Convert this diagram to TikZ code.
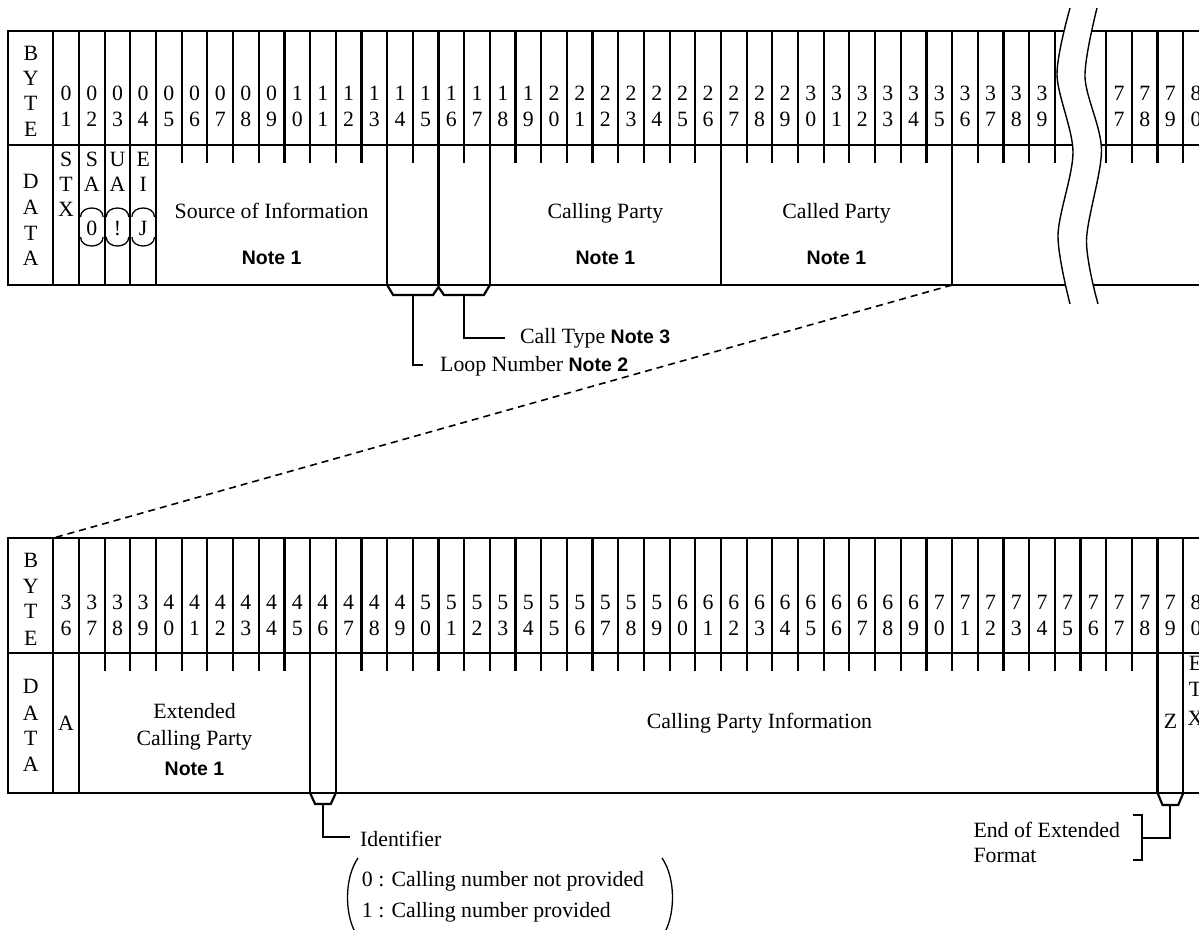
\documentclass[tikz,border=0pt]{standalone}
\usepackage{fontspec}
\usetikzlibrary{calc}
\setmainfont{Liberation Serif}
\newfontfamily\notefont{Liberation Sans}
\newcommand\notetxt[1]{{\notefont\bfseries\fontsize{19.5}{22}\selectfont #1}}
\tikzset{
  tbl/.style={line width=2.2pt},
  lead/.style={line width=2.2pt},
  brk/.style={line width=1.4pt},
  txt/.style={font=\fontsize{21.8}{25}\selectfont, inner sep=0pt, anchor=base},
  ltxt/.style={txt, anchor=base west},
  note/.style={font=\notefont\bfseries\fontsize{19.5}{22}\selectfont, inner sep=0pt, anchor=base},
  enc/.style={line width=1.3pt},
  dsh/.style={line width=1.6pt, dash pattern=on 7pt off 5pt},
}
\begin{document}
\begin{tikzpicture}[x=1pt,y=-1pt]
\useasboundingbox (0,0) rectangle (1199,929);
\def\W{25.68}
% ================= TOP TABLE =================
\draw[tbl] (8.3,31) -- (1215,31);
\draw[tbl] (8.3,145) -- (1215,145);
\draw[tbl] (8.3,285) -- (1215,285);
\draw[tbl] (8.3,29.9) -- (8.3,286.1);
% byte row verticals
\foreach \k in {1,...,40} \draw[tbl] ({53.3+(\k-1)*\W},31) -- ++(0,114);
\foreach \k in {77,...,80} \draw[tbl] ({53.3+(\k-36)*\W},31) -- ++(0,114);
% data row full lines
\foreach \k in {1,2,3,4,5,14,16,18,27,36} \draw[tbl] ({53.3+(\k-1)*\W},145) -- ++(0,140);
% data row ticks
\foreach \k in {6,...,13,15,17,19,20,...,26,28,29,...,35,37,38,39,40} \draw[tbl] ({53.3+(\k-1)*\W},145) -- ++(0,18);
\foreach \k in {77,...,80} \draw[tbl] ({53.3+(\k-36)*\W},145) -- ++(0,18);
% break
\fill[white] plot[smooth] coordinates {(1070,8) (1057,75) (1073,152) (1058,235) (1070,304)}
  -- plot[smooth] coordinates {(1098,304) (1086.5,240) (1101.5,150) (1085,77) (1097,8)} -- cycle;
\draw[brk] plot[smooth] coordinates {(1070,8) (1057,75) (1073,152) (1058,235) (1070,304)};
\draw[brk] plot[smooth] coordinates {(1097,8) (1085,77) (1101.5,150) (1086.5,240) (1098,304)};
% labels
\foreach \l/\y [count=\i] in {B/60,Y/85.5,T/110.5,E/136} \node[txt] (tb\i) at (30.8,\y) {\l};
\foreach \l/\y [count=\i] in {D/188.3,A/214.5,T/240,A/265} \node[txt] (td\i) at (30.8,\y) {\l};
\foreach \k in {1,...,39,77,78,79,80} {
  \pgfmathtruncatemacro\tb{mod(\k,10)}
  \pgfmathtruncatemacro\ta{(\k-\tb)/10}
  \pgfmathsetmacro\cx{\k<41 ? 53.3+(\k-0.5)*\W : 53.3+(\k-35.5)*\W}
  \node[txt] (tu\k) at (\cx,100) {\ta};
  \node[txt] (tl\k) at (\cx,126) {\tb};
}
% STX / SA / UA / EI
\foreach \l/\y [count=\i] in {S/166.7,T/191.7,X/216.7} \node[txt] (stx\i) at (66.1,\y) {\l};
\foreach \a/\b/\c/\k in {S/A/0/2,U/A/!/3,E/I/J/4} {
  \pgfmathsetmacro\cx{53.3+(\k-0.5)*\W}
  \node[txt] (c\k a) at (\cx,166.7) {\a};
  \node[txt] (c\k b) at (\cx,191.7) {\b};
  \node[txt] (c\k c) at (\cx,235) {\c};
  \draw[enc] (\cx-11.3,217) .. controls (\cx-11.3,205) and (\cx+11.3,205) .. (\cx+11.3,217);
  \draw[enc] (\cx-11.3,237) .. controls (\cx-11.3,249) and (\cx+11.3,249) .. (\cx+11.3,237);
}
\node[txt] (src) at (271.6,218) {Source of Information};
\node[note] (srcn) at (271.6,264) {Note 1};
\node[txt] (cgp) at (605.4,218) {Calling Party};
\node[note] (cgpn) at (605.4,264) {Note 1};
\node[txt] (cdp) at (836.5,218) {Called Party};
\node[note] (cdpn) at (836.5,264) {Note 1};
% brackets under 14-17
\coordinate (b14) at ({53.3+13*\W},285);
\coordinate (b16) at ({53.3+15*\W},287);
\coordinate (b18) at ({53.3+17*\W},285);
\draw[lead, line join=miter] (b14) -- ++(6,10) -- ($(b16)+(-5.5,8)$) -- (b16) -- ++(5.5,8) -- ($(b18)+(-6,10)$) -- (b18);
\node[ltxt] (loop) at (440,371.7) {Loop Number \notetxt{Note 2}};
\node[ltxt] (ctype) at (520,343.3) {Call Type \notetxt{Note 3}};
\draw[lead] ({53.3+14*\W},295) |- (423.3,365);
\draw[lead] ({53.3+16*\W},295) |- (505,338.3);
% dashed zoom line
\coordinate (z1) at ({53.3+35*\W},285);
\coordinate (z2) at (53.3,538);
\draw[dsh] (z1) -- (z2);
% ================= BOTTOM TABLE =================
\draw[tbl] (8.3,538) -- (1215,538);
\draw[tbl] (8.3,653) -- (1215,653);
\draw[tbl] (8.3,793) -- (1215,793);
\draw[tbl] (8.3,536.9) -- (8.3,794.1);
\foreach \k in {36,...,80} \draw[tbl] ({53.3+(\k-36)*\W},538) -- ++(0,115);
\foreach \k in {36,37,46,47,79,80} \draw[tbl] ({53.3+(\k-36)*\W},653) -- ++(0,140);
\foreach \k in {38,...,45,48,49,...,78} \draw[tbl] ({53.3+(\k-36)*\W},653) -- ++(0,18);
\foreach \l/\y [count=\i] in {B/567,Y/593,T/618.5,E/645} \node[txt] (bb\i) at (30.8,\y) {\l};
\foreach \l/\y [count=\i] in {D/693.5,A/720,T/745.5,A/771.5} \node[txt] (bd\i) at (30.8,\y) {\l};
\foreach \k in {36,...,80} {
  \pgfmathtruncatemacro\tb{mod(\k,10)}
  \pgfmathtruncatemacro\ta{(\k-\tb)/10}
  \pgfmathsetmacro\cx{53.3+(\k-35.5)*\W}
  \node[txt] (bu\k) at (\cx,609.5) {\ta};
  \node[txt] (bl\k) at (\cx,635) {\tb};
}
\node[txt] (ba) at (66.1,730) {A};
\node[txt] (ext1) at (194.5,718.3) {Extended};
\node[txt] (ext2) at (194.5,745) {Calling Party};
\node[note] (extn) at (194.5,775) {Note 1};
\node[txt] (cpi) at (759.4,728.3) {Calling Party Information};
\node[txt] (zz) at (1170.4,728.3) {Z};
\foreach \l/\y [count=\i] in {E/670,T/696.7,X/725} \node[txt] (etx\i) at (1195.5,\y) {\l};
% identifier
\coordinate (i46) at ({53.3+10*\W},793);
\coordinate (i47) at ({53.3+11*\W},793);
\draw[lead, line join=miter] (i46) -- ++(5,11) -- ($(i47)+(-5,11)$) -- (i47);
\draw[lead] ({53.3+10.5*\W},804) |- (350,837.3);
\node[ltxt] (ident) at (360,846) {Identifier};
\node[ltxt] (id0) at (361.7,886) {0 : Calling number not provided};
\node[ltxt] (id1) at (361.7,917.3) {1 : Calling number provided};
\draw[enc] (358,858) .. controls (344,878) and (344,917) .. (358,937);
\draw[enc] (662,858) .. controls (676,878) and (676,917) .. (662,937);
% end of extended format
\coordinate (e79) at ({53.3+43*\W},793);
\coordinate (e80) at ({53.3+44*\W},793);
\draw[lead, line join=miter] (e79) -- ++(5,12) -- ($(e80)+(-5,12)$) -- (e80);
\draw[lead] ({53.3+43.5*\W},805) |- (1141.7,838.3);
\draw[lead] (1132.7,815) -- (1141.7,815) -- (1141.7,860) -- (1132.7,860);
\node[ltxt] (eef1) at (973.3,837.3) {End of Extended};
\node[ltxt] (eef2) at (973.3,862.7) {Format};
\end{tikzpicture}
\end{document}
